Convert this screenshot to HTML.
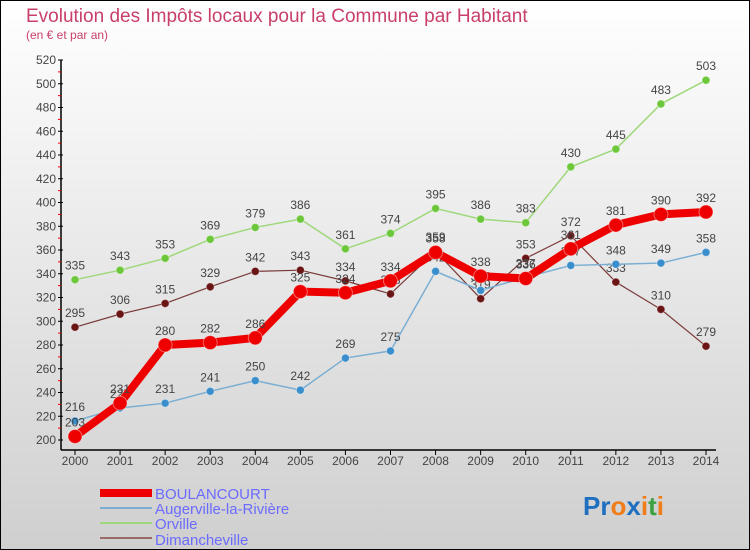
<!DOCTYPE html>
<html><head><meta charset="utf-8"><style>
body{margin:0}
#c{width:750px;height:550px;position:relative;overflow:hidden;font-family:"Liberation Sans",sans-serif}
</style></head><body>
<div id="c">
<svg id="s" width="750" height="550" xmlns="http://www.w3.org/2000/svg">
<defs><linearGradient id="bg" x1="0" y1="0" x2="0" y2="1"><stop offset="0" stop-color="#ffffff"/><stop offset="1" stop-color="#cfcfcf"/></linearGradient></defs>
<rect x="0.5" y="0.5" width="749" height="549" fill="url(#bg)" stroke="#000"/>
<text x="26" y="22" font-size="19" fill="#c8406a">Evolution des Impôts locaux pour la Commune par Habitant</text>
<text x="26" y="39" font-size="12" fill="#c8406a">(en € et par an)</text>
<g id="axes"></g><g id="series"></g>
<g>
<rect x="100" y="489" width="52" height="8" fill="#e00"/>
<text x="155" y="499" font-size="15" fill="#6b6bff">BOULANCOURT</text>
<line x1="100" y1="508" x2="152" y2="508" stroke="#7aaed3" stroke-width="2"/>
<text x="155" y="514" font-size="15" fill="#6b6bff">Augerville-la-Rivière</text>
<line x1="100" y1="523" x2="152" y2="523" stroke="#9ed87a" stroke-width="2"/>
<text x="155" y="529" font-size="15" fill="#6b6bff">Orville</text>
<line x1="100" y1="538" x2="152" y2="538" stroke="#9a6a6a" stroke-width="2"/>
<text x="155" y="545" font-size="15" fill="#6b6bff">Dimancheville</text>
</g>
<g font-size="26" font-weight="bold">
<text x="583" y="515"><tspan fill="#1e6fc0">Pr</tspan><tspan fill="#f07d1a">o</tspan><tspan fill="#1e6fc0">x</tspan><tspan fill="#f07d1a">i</tspan><tspan fill="#3aa040">t</tspan><tspan fill="#f07d1a">i</tspan></text>
</g>
</svg>
</div>
<script>
const years=[2000,2001,2002,2003,2004,2005,2006,2007,2008,2009,2010,2011,2012,2013,2014];
const yTicks=[200,220,240,260,280,300,320,340,360,380,400,420,440,460,480,500,520];
const boulancourt=[203,231,280,282,286,325,324,334,358,338,336,361,381,390,392];
const augerville=[216,227,231,241,250,242,269,275,342,326,337,347,348,349,358];
const orville=[335,343,353,369,379,386,361,374,395,386,383,430,445,483,503];
const dimancheville=[295,306,315,329,342,343,334,323,359,319,353,372,333,310,279];
const NS="http://www.w3.org/2000/svg";
function X(i){return 75+i*(706-75)/14;}
function Y(v){return 440-(v-200)*(380/320);}
function mk(t,a,p){const e=document.createElementNS(NS,t);for(const k in a)e.setAttribute(k,a[k]);p.appendChild(e);return e;}
const ax=document.getElementById('axes');
const yl=mk('line',{x1:61,y1:60,x2:61,y2:450,stroke:'#000','stroke-width':1.5},ax);


const xl=mk('line',{x1:61,y1:450,x2:716,y2:450,stroke:'#000','stroke-width':1.5},ax);


yTicks.forEach((v,i)=>{
  mk('line',{x1:58,y1:Y(v),x2:63,y2:Y(v),stroke:'#000'},ax);
  if(i<yTicks.length-1)mk('line',{x1:58,y1:Y(v+10),x2:61,y2:Y(v+10),stroke:'#e00'},ax);
  const t=mk('text',{x:56,y:Y(v)+4,'font-size':12,fill:'#444','text-anchor':'end'},ax);
  t.textContent=v;
  
  
});
years.forEach((y,i)=>{
  mk('line',{x1:X(i),y1:450,x2:X(i),y2:455,stroke:'#000'},ax);
  const t=mk('text',{x:X(i),y:465,'font-size':12,fill:'#444','text-anchor':'middle'},ax);
  t.textContent=y;
  
  
});
const sg=document.getElementById('series');
function draw(data,name,color,w,r,dot){
  const g=mk('g',{},sg);
  
  
  const p=mk('polyline',{points:data.map((v,i)=>X(i)+','+Y(v)).join(' '),fill:'none',stroke:color,'stroke-width':w,'stroke-linejoin':'round'},g);
  
  
  data.forEach((v,i)=>{
    const c=mk('circle',{cx:X(i),cy:Y(v),r:r,fill:dot,stroke:'#fff','stroke-opacity':0.4},g);
    
    
    const t=mk('text',{x:X(i),y:Y(v)-10,'font-size':12,fill:'#444','text-anchor':'middle'},g);
    t.textContent=v;
    
    
  });
}
draw(orville,'orville','#9ed87a',1.5,4,'#6cc83a');
draw(dimancheville,'dimancheville','#7a3a3a',1.2,4,'#6a1414');
draw(augerville,'augerville','#7aaed3',1.5,4,'#3a8ecc');
draw(boulancourt,'boulancourt','#ee0000',8,7,'#ee0000');
</script>
</body></html>
